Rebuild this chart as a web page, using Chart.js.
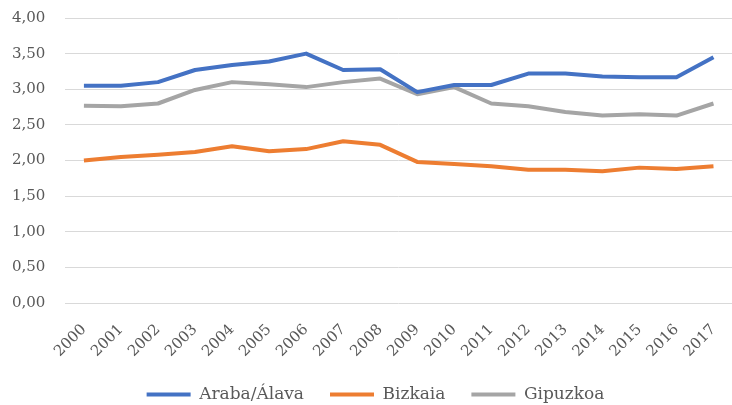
<!DOCTYPE html>
<html>
<head>
<meta charset="utf-8">
<script src="https://cdn.jsdelivr.net/npm/chart.js@4/dist/chart.umd.min.js"></script>
<style>
    html, body { margin: 0; padding: 0; background: #fff; }
    #wrap { width: 732px; height: 405px; }
</style>
</head>
<body>
<div id="wrap"><canvas id="chart"></canvas></div>
<script>
const years = ['2000', '2001', '2002', '2003', '2004', '2005', '2006', '2007', '2008',
    '2009', '2010', '2011', '2012', '2013', '2014', '2015', '2016', '2017'];

const araba = [3.05, 3.05, 3.10, 3.27, 3.34, 3.39, 3.50, 3.27, 3.28,
    2.96, 3.06, 3.06, 3.22, 3.22, 3.18, 3.17, 3.17, 3.45];
const bizkaia = [2.00, 2.05, 2.08, 2.12, 2.20, 2.13, 2.16, 2.27, 2.22,
    1.98, 1.95, 1.92, 1.87, 1.87, 1.85, 1.90, 1.88, 1.92];
const gipuzkoa = [2.77, 2.76, 2.80, 2.99, 3.10, 3.07, 3.03, 3.10, 3.15,
    2.93, 3.03, 2.80, 2.76, 2.68, 2.63, 2.65, 2.63, 2.80];

const seriesNames = ['Araba/Álava', 'Bizkaia', 'Gipuzkoa'];
const seriesColors = ['#4472C4', '#ED7D31', '#A5A5A5'];

const textColor = '#595959';
const fontFamily = "'DejaVu Serif', serif";

function makeDataset(index, data) {
    return {
        label: seriesNames[index],
        data: data,
        borderColor: seriesColors[index],
        backgroundColor: seriesColors[index],
        borderWidth: 4,
        pointRadius: 0,
        tension: 0,
        borderJoinStyle: 'round'
    };
}

// nudge the legend a bit to the right, like the original
const legendShift = {
    id: 'legendShift',
    afterLayout(chart) {
        chart.legend.left += 10;
        chart.legend.right += 10;
    }
};

new Chart(document.getElementById('chart').getContext('2d'), {
    type: 'line',
    data: {
        labels: years,
        datasets: [
            makeDataset(0, araba),
            makeDataset(1, bizkaia),
            makeDataset(2, gipuzkoa)
        ]
    },
    plugins: [legendShift],
    options: {
        responsive: true,
        maintainAspectRatio: false,
        animation: false,
        layout: { padding: { top: 18, right: -7, left: -8, bottom: -8 } },
        scales: {
            x: {
                offset: true,
                grid: { display: false },
                border: { display: false },
                afterFit: scale => {
                    scale.paddingRight = -7;
                    scale.paddingLeft = 0;
                    scale.height = 57;
                },
                ticks: {
                    color: textColor,
                    font: { family: fontFamily, size: 15 },
                    maxRotation: 45,
                    minRotation: 45,
                    autoSkip: false,
                    padding: 10
                }
            },
            y: {
                min: 0,
                max: 4,
                afterFit: scale => { scale.paddingTop = 0; },
                grid: { color: '#D9D9D9', lineWidth: 1, drawTicks: false },
                border: { display: false },
                ticks: {
                    stepSize: 0.5,
                    color: textColor,
                    font: { family: fontFamily, size: 15 },
                    padding: 20,
                    callback: value => value.toFixed(2).replace('.', ',')
                }
            }
        },
        plugins: {
            tooltip: { enabled: false },
            legend: {
                position: 'bottom',
                labels: {
                    color: textColor,
                    font: { family: fontFamily, size: 17 },
                    boxWidth: 44,
                    boxHeight: 4,
                    padding: 26,
                    generateLabels: chart => Chart.defaults.plugins.legend.labels.generateLabels(chart)
                        .map(item => Object.assign(item, { lineWidth: 0 }))
                }
            }
        }
    }
});
</script>
</body>
</html>
